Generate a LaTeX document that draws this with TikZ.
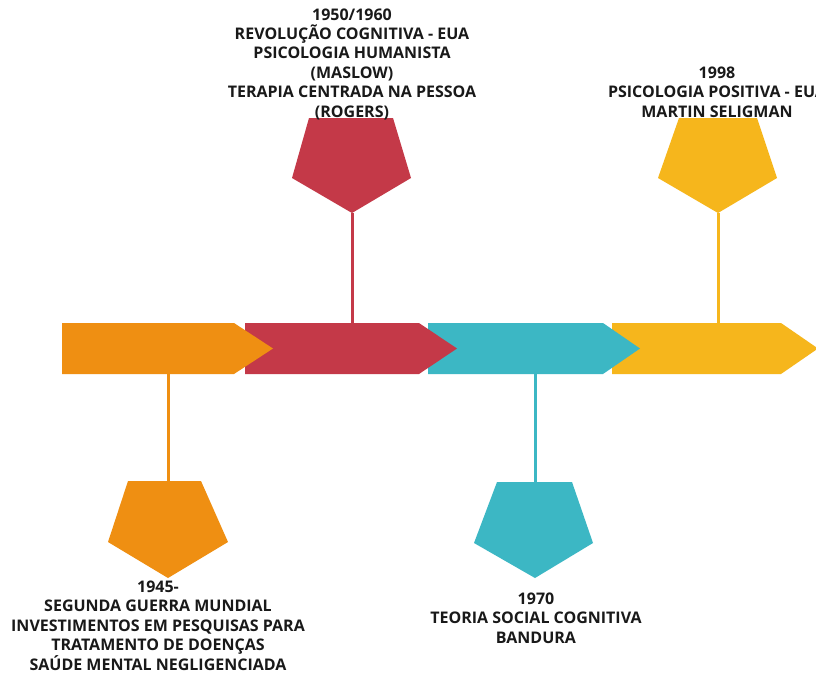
\documentclass[tikz,border=0pt]{standalone}
\usepackage{fontspec}
\setmainfont{Open Sans}
\definecolor{cO}{RGB}{239,143,18}
\definecolor{cR}{RGB}{196,57,72}
\definecolor{cT}{RGB}{60,183,196}
\definecolor{cY}{RGB}{246,182,28}
\definecolor{txt}{RGB}{25,25,25}
\begin{document}
\begin{tikzpicture}[x=1pt,y=-1pt,
  lbl/.style={font=\fontsize{16}{19.4}\selectfont\bfseries, align=center, text=txt, inner sep=0pt},
  stem/.style={line width=3pt}]
\useasboundingbox (0,0) rectangle (816,675);
\fill[white] (0,0) rectangle (816,675);

% pentagon anchor coordinates
\coordinate (pR) at (352,213);
\coordinate (pY) at (718,213);
\coordinate (pO) at (168,481);
\coordinate (pT) at (535,482);
\coordinate (bR) at (352,323);
\coordinate (bY) at (718,323);
\coordinate (bO) at (168,374);
\coordinate (bT) at (535,374);

% stems
\draw[stem, cR] (pR) -- (bR);
\draw[stem, cY] (pY) -- (bY);
\draw[stem, cO] (bO) -- (pO);
\draw[stem, cT] (bT) -- (pT);

% timeline chevrons (right to left so each tip lies on the next)
\fill[cY] (612,323) -- (781,323) -- (818,348.5) -- (781,374) -- (612,374) -- cycle;
\fill[cT] (428,323) -- (603,323) -- (640,348.5) -- (603,374) -- (428,374) -- cycle;
\fill[cR] (245,323) -- (419,323) -- (457,348.5) -- (419,374) -- (245,374) -- cycle;
\fill[cO] (62,323) -- (234,323) -- (273,348.5) -- (234,374) -- (62,374) -- cycle;

% pentagons (all pointing down)
\fill[cR] (309,118) -- (393,118) -- (411,178) -- (pR) -- (292,178) -- cycle;
\fill[cY] (679,118) -- (757,118) -- (777,178) -- (pY) -- (658,178) -- cycle;
\fill[cO] (128,481) -- (201,481) -- (228,542) -- (168,578) -- (108,542) -- cycle;
\fill[cT] (497,482) -- (572,482) -- (593,543) -- (535,578) -- (474,543) -- cycle;

% labels (base = baseline of last line)
\node[lbl, anchor=base] (tR) at (352,117) {1950/1960\\REVOLUÇÃO COGNITIVA - EUA\\PSICOLOGIA HUMANISTA\\(MASLOW)\\TERAPIA CENTRADA NA PESSOA\\(ROGERS)};
\node[lbl, anchor=base] (tY) at (717,117) {1998\\PSICOLOGIA POSITIVA - EUA\\MARTIN SELIGMAN};
\node[lbl, anchor=base] (tO) at (158,670) {1945-\\SEGUNDA GUERRA MUNDIAL\\INVESTIMENTOS EM PESQUISAS PARA\\TRATAMENTO DE DOENÇAS\\SAÚDE MENTAL NEGLIGENCIADA};
\node[lbl, anchor=base] (tT) at (536,643) {1970\\TEORIA SOCIAL COGNITIVA\\BANDURA};
\end{tikzpicture}
\end{document}
